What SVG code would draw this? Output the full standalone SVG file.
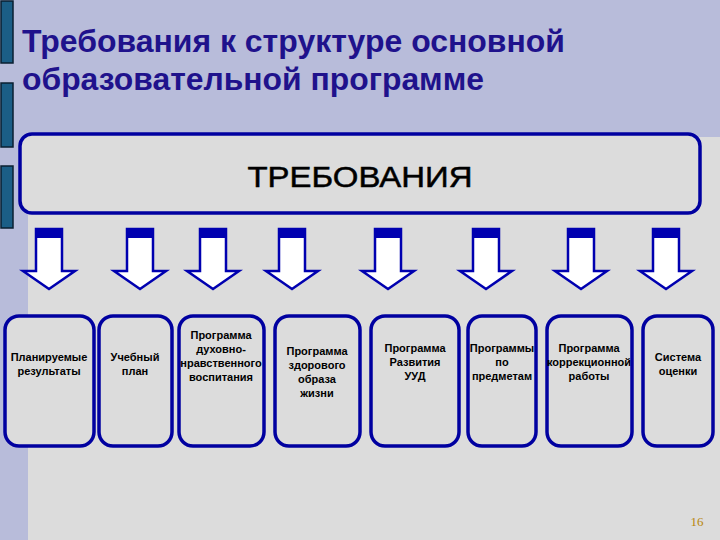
<svg xmlns="http://www.w3.org/2000/svg" width="720" height="540" viewBox="0 0 720 540">
<defs>
<style>
.bar{fill:#1B5E86;stroke:#0A1F30;stroke-width:1.5}
.box{fill:#DCDCDC;stroke:#0000A0;stroke-width:3.5}
.arr{fill:#FFFFFF;stroke:#0000B0;stroke-width:2.5;stroke-linejoin:miter}
.cap{fill:#0000B0}
.t{font-family:"Liberation Sans",Arial,sans-serif;font-size:11px;font-weight:bold;fill:#000;text-anchor:middle}
.h{font-family:"Liberation Sans",Arial,sans-serif;font-size:32px;font-weight:bold;fill:#1F128C}
</style>
<g id="arrowShape"><path class="arr" d="M-13,0 H13 V42 H26 L0,60 L-26,42 H-13 Z"/><rect class="cap" x="-13" y="0" width="26" height="9"/></g>
</defs>
<rect width="720" height="540" fill="#B8BCDA"/>
<rect x="28" y="137" width="692" height="403" fill="#DCDCDC"/>
<rect class="bar" x="1" y="1" width="12" height="62"/>
<rect class="bar" x="1" y="83" width="12" height="64"/>
<rect class="bar" x="1" y="166" width="12" height="62"/>
<text class="h" x="22" y="52" textLength="543" lengthAdjust="spacingAndGlyphs">Требования к структуре основной</text>
<text class="h" x="22" y="90" textLength="462" lengthAdjust="spacingAndGlyphs">образовательной программе</text>
<g id="req"><rect class="box" x="20" y="134" width="680" height="79" rx="12"/><text x="360" y="187" font-family="Liberation Sans,Arial,sans-serif" font-size="30" fill="#000" stroke="#000" stroke-width="0.5" text-anchor="middle" textLength="225" lengthAdjust="spacingAndGlyphs">ТРЕБОВАНИЯ</text></g>
<g id="connectors">
<use href="#arrowShape" x="49" y="229"/>
<use href="#arrowShape" x="140" y="229"/>
<use href="#arrowShape" x="213" y="229"/>
<use href="#arrowShape" x="292" y="229"/>
<use href="#arrowShape" x="388" y="229"/>
<use href="#arrowShape" x="486" y="229"/>
<use href="#arrowShape" x="581" y="229"/>
<use href="#arrowShape" x="666" y="229"/>
</g>
<g id="n1"><rect class="box" x="5" y="316" width="89" height="130" rx="14"/><text class="t" x="49" y="361">Планируемые</text><text class="t" x="49" y="375">результаты</text></g>
<g id="n2"><rect class="box" x="99" y="316" width="73" height="130" rx="14"/><text class="t" x="135" y="361">Учебный</text><text class="t" x="135" y="375">план</text></g>
<g id="n3"><rect class="box" x="179" y="316" width="85" height="130" rx="14"/><text class="t" x="221" y="339">Программа</text><text class="t" x="221" y="353">духовно-</text><text class="t" x="221" y="367">нравственного</text><text class="t" x="221" y="381">воспитания</text></g>
<g id="n4"><rect class="box" x="275" y="316" width="85" height="130" rx="14"/><text class="t" x="317" y="355">Программа</text><text class="t" x="317" y="369">здорового</text><text class="t" x="317" y="383">образа</text><text class="t" x="317" y="397">жизни</text></g>
<g id="n5"><rect class="box" x="371" y="316" width="88" height="130" rx="14"/><text class="t" x="415" y="352">Программа</text><text class="t" x="415" y="366">Развития</text><text class="t" x="415" y="380">УУД</text></g>
<g id="n6"><rect class="box" x="468" y="316" width="68" height="130" rx="14"/><text class="t" x="502" y="352">Программы</text><text class="t" x="502" y="366">по</text><text class="t" x="502" y="380">предметам</text></g>
<g id="n7"><rect class="box" x="547" y="316" width="85" height="130" rx="14"/><text class="t" x="589" y="352">Программа</text><text class="t" x="589" y="366">коррекционной</text><text class="t" x="589" y="380">работы</text></g>
<g id="n8"><rect class="box" x="643" y="316" width="70" height="130" rx="14"/><text class="t" x="678" y="361">Система</text><text class="t" x="678" y="375">оценки</text></g>
<text x="697" y="526" font-family="Liberation Serif,serif" font-size="13" fill="#B8860B" text-anchor="middle">16</text>
</svg>
